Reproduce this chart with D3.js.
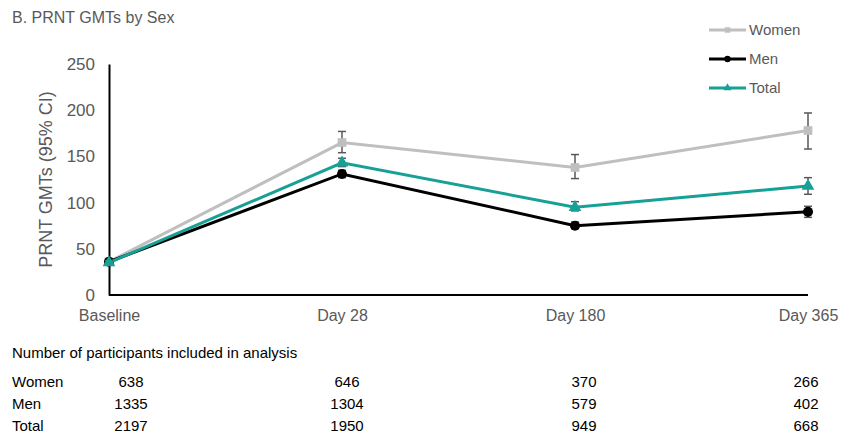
<!DOCTYPE html>
<html>
<head>
<meta charset="utf-8">
<script src="https://cdn.jsdelivr.net/npm/d3@7"></script>
<style>
  html, body { margin: 0; padding: 0; background: #fff; }
  svg { display: block; font-family: "Liberation Sans Narrow", "Arial Narrow", "Liberation Sans", sans-serif; }
</style>
</head>
<body>
<svg id="chart" width="842" height="434"></svg>
<script>
// Time points
const timepoints = ["Baseline", "Day 28", "Day 180", "Day 365"];
const yTicks = [0, 50, 100, 150, 200, 250];

// Geometric mean titres with 95% CI, per group
const womenGMT = [36, 165, 138, 178];
const womenLow = [33, 154, 126, 158];
const womenHigh = [39, 177, 152, 197];

const menGMT = [36, 131, 75, 90];
const menLow = [34, 127, 72, 84];
const menHigh = [38, 135, 79, 96];

const totalGMT = [35, 143, 95, 118];
const totalLow = [33, 139, 91, 109];
const totalHigh = [37, 148, 101, 127];

// Participants included in analysis
const nWomen = [638, 646, 370, 266];
const nMen = [1335, 1304, 579, 402];
const nTotal = [2197, 1950, 949, 668];

const series = [
  { name: "Women", values: womenGMT, low: womenLow, high: womenHigh, color: "#bfbfbf", marker: d3.symbolSquare, size: 75 },
  { name: "Men", values: menGMT, low: menLow, high: menHigh, color: "#000000", marker: d3.symbolCircle, size: 80 },
  { name: "Total", values: totalGMT, low: totalLow, high: totalHigh, color: "#17a096", marker: d3.symbolTriangle, size: 70 }
];

const svg = d3.select("#chart");
const textGray = "#595959";

const x = d3.scalePoint().domain(timepoints).range([109, 808]);
const y = d3.scaleLinear().domain([0, 250]).range([295, 64]);

// Title
svg.append("text")
  .attr("x", 12).attr("y", 23)
  .attr("fill", textGray).attr("font-size", 16)
  .text("B. PRNT GMTs by Sex");

// Y axis
const yAxis = svg.append("g")
  .attr("transform", "translate(109,0)")
  .call(d3.axisLeft(y).tickValues(yTicks).tickSize(0).tickPadding(14));
yAxis.select(".domain").attr("stroke", "#000").attr("stroke-width", 2);
yAxis.selectAll("text").attr("fill", textGray).attr("font-size", 17)
  .attr("font-family", "inherit");

// X axis
const xAxis = svg.append("g")
  .attr("transform", "translate(0,295)")
  .call(d3.axisBottom(x).tickSize(0).tickPadding(15));
xAxis.select(".domain").attr("stroke", "#000").attr("stroke-width", 2)
  .attr("d", `M${x.range()[0]},0H${x.range()[1]}`);
xAxis.selectAll("text").attr("fill", textGray).attr("font-size", 16)
  .attr("font-family", "inherit");

// Y axis title
svg.append("text")
  .attr("transform", `translate(52,${y(125)}) rotate(-90)`)
  .attr("text-anchor", "middle")
  .attr("fill", textGray).attr("font-size", 18)
  .text("PRNT GMTs (95% CI)");

const line = d3.line()
  .x((d, i) => x(timepoints[i]))
  .y(d => y(d));

// Draw series back to front: Women, Men, Total
series.forEach(s => {
  svg.append("path")
    .datum(s.values)
    .attr("fill", "none")
    .attr("stroke", s.color)
    .attr("stroke-width", 3)
    .attr("d", line);

  // Error bars
  const eb = svg.append("g").attr("stroke", "#595959").attr("stroke-width", 1.5);
  s.values.forEach((v, i) => {
    const cx = x(timepoints[i]);
    eb.append("line").attr("x1", cx).attr("x2", cx).attr("y1", y(s.low[i])).attr("y2", y(s.high[i]));
    eb.append("line").attr("x1", cx - 4).attr("x2", cx + 4).attr("y1", y(s.low[i])).attr("y2", y(s.low[i]));
    eb.append("line").attr("x1", cx - 4).attr("x2", cx + 4).attr("y1", y(s.high[i])).attr("y2", y(s.high[i]));
  });

  svg.append("g").selectAll("path")
    .data(s.values)
    .join("path")
    .attr("transform", (d, i) => `translate(${x(timepoints[i])},${y(d)})`)
    .attr("d", d3.symbol().type(s.marker).size(s.size))
    .attr("fill", s.color);
});

// Legend
const legend = svg.append("g");
series.forEach((s, i) => {
  const ly = 30 + i * 29;
  legend.append("line")
    .attr("x1", 709).attr("x2", 746).attr("y1", ly).attr("y2", ly)
    .attr("stroke", s.color).attr("stroke-width", 3);
  legend.append("path")
    .attr("transform", `translate(727.5,${ly})`)
    .attr("d", d3.symbol().type(s.marker).size(s.size * 0.4))
    .attr("fill", s.color);
  legend.append("text")
    .attr("x", 749).attr("y", ly + 5)
    .attr("fill", textGray).attr("font-size", 15)
    .text(s.name);
});

// Participant counts table
svg.append("text")
  .attr("x", 12).attr("y", 358)
  .attr("fill", "#000").attr("font-size", 15)
  .text("Number of participants included in analysis");

const rows = [
  { label: "Women", counts: nWomen },
  { label: "Men", counts: nMen },
  { label: "Total", counts: nTotal }
];
const colX = [131, 347, 584, 806];
rows.forEach((r, ri) => {
  const ry = 387 + ri * 22;
  svg.append("text")
    .attr("x", 12).attr("y", ry)
    .attr("fill", "#000").attr("font-size", 15)
    .text(r.label);
  r.counts.forEach((c, ci) => {
    svg.append("text")
      .attr("x", colX[ci]).attr("y", ry)
      .attr("text-anchor", "middle")
      .attr("fill", "#000").attr("font-size", 15)
      .text(c);
  });
});
</script>
</body>
</html>
